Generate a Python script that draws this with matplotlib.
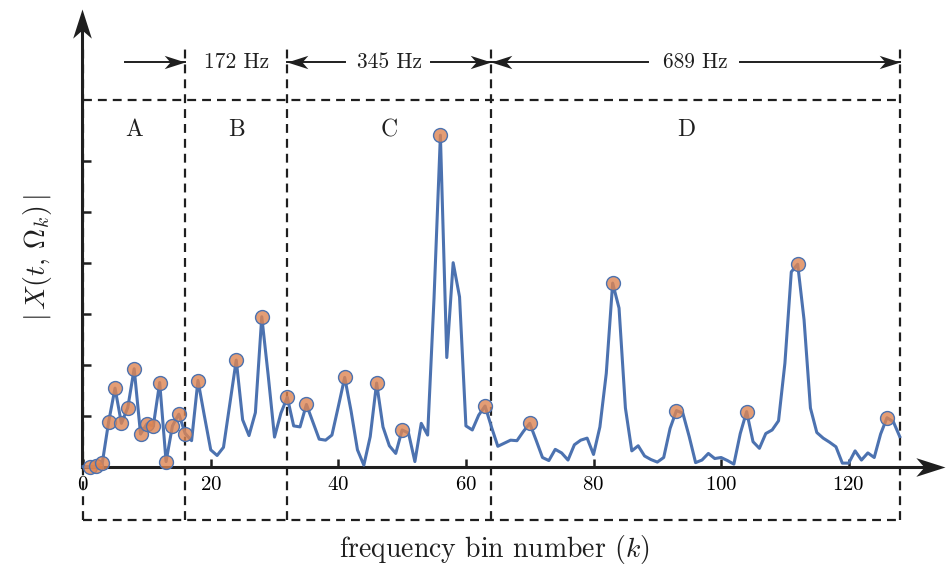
import numpy as np
import matplotlib
matplotlib.use('Agg')
import matplotlib.pyplot as plt
from matplotlib.path import Path

plt.rcParams['font.family'] = 'cmr10'
plt.rcParams['mathtext.fontset'] = 'cm'
plt.rcParams['axes.formatter.use_mathtext'] = True

# spectrum magnitude per frequency bin
bins = np.arange(129)
magnitude = [
    0.00, 0.00, 0.01, 0.07, 0.88, 1.54, 0.85, 1.16, 1.92, 0.64,
    0.84, 0.80, 1.65, 0.10, 0.80, 1.03, 0.65, 0.51, 1.69, 1.00,
    0.33, 0.22, 0.38, 1.24, 2.09, 0.92, 0.61, 1.06, 2.94, 1.80,
    0.58, 1.05, 1.36, 0.80, 0.78, 1.22, 0.88, 0.54, 0.52, 0.62,
    1.18, 1.75, 1.09, 0.33, 0.03, 0.59, 1.64, 0.78, 0.41, 0.26,
    0.72, 0.66, 0.10, 0.85, 0.62, 3.30, 6.50, 2.14, 4.00, 3.33,
    0.80, 0.72, 1.01, 1.19, 0.78, 0.40, 0.46, 0.52, 0.51, 0.69,
    0.85, 0.52, 0.18, 0.12, 0.34, 0.27, 0.13, 0.43, 0.52, 0.56,
    0.24, 0.78, 1.83, 3.60, 3.11, 1.15, 0.31, 0.41, 0.21, 0.14,
    0.09, 0.18, 0.75, 1.10, 1.05, 0.59, 0.08, 0.13, 0.26, 0.16,
    0.18, 0.12, 0.05, 0.65, 1.08, 0.49, 0.36, 0.65, 0.72, 0.90,
    2.03, 3.82, 3.97, 2.88, 1.15, 0.67, 0.56, 0.48, 0.39, 0.07,
    0.07, 0.31, 0.13, 0.27, 0.18, 0.64, 0.96, 0.88, 0.59,
]
peak_bins = [1, 2, 3, 4, 5, 6, 7, 8, 9, 10, 11, 12, 13, 14, 15, 16,
             18, 24, 28, 32, 35, 41, 46, 50, 56, 63, 70, 83, 93, 104, 112, 126]

# band edges and labels
edges = [0, 16, 32, 64, 128]
band_names = ['A', 'B', 'C', 'D']
band_label_x = [8, 24, 48, 94.5]
band_widths = ['172 Hz', '345 Hz', '689 Hz']

xticks = [0, 20, 40, 60, 80, 100, 120]
yticks = [1, 2, 3, 4, 5, 6]

blue = '#4C72B0'
orange = (0.87, 0.52, 0.32, 0.8)
ink = '#1f1f1f'

fig = plt.figure(figsize=(9.52, 5.72), dpi=100)
ax = fig.add_axes([0, 0, 1, 1])
ax.set_xlim(-13.03, 136.19)
ax.set_ylim(-2.065, 9.151)
ax.patch.set_alpha(0)

# axes as arrows
ax.spines['top'].set_visible(False)
ax.spines['right'].set_visible(False)
ax.spines['left'].set_position(('data', -0.2))
ax.spines['bottom'].set_position(('data', 0))
ax.spines['left'].set_bounds(0, 8.6)
ax.spines['bottom'].set_bounds(-0.2, 134.0)
for s in ['left', 'bottom']:
    ax.spines[s].set_linewidth(2.2)
    ax.spines[s].set_color(ink)
ax.set_xticks(xticks)
ax.set_yticks(yticks)
ax.set_yticklabels([])
ax.tick_params(axis='x', direction='in', length=5.5, width=1.8, color=ink,
               labelsize=15, pad=7)
ax.tick_params(axis='y', direction='in', length=6.5, width=1.8, color=ink)

head = Path([(0, 0), (-1, 0.32), (-0.72, 0), (-1, -0.32), (0, 0)],
            [Path.MOVETO, Path.LINETO, Path.LINETO, Path.LINETO, Path.CLOSEPOLY])
head_l = Path([(0, 0), (1, 0.32), (0.72, 0), (1, -0.32), (0, 0)],
              [Path.MOVETO, Path.LINETO, Path.LINETO, Path.LINETO, Path.CLOSEPOLY])
head_u = Path([(0, 0), (0.32, -1), (0, -0.72), (-0.32, -1), (0, 0)],
              [Path.MOVETO, Path.LINETO, Path.LINETO, Path.LINETO, Path.CLOSEPOLY])
ax.plot([135.1], [0], marker=head, ms=42, color=ink, mew=0, clip_on=False)
ax.plot([-0.2], [8.98], marker=head_u, ms=42, color=ink, mew=0, clip_on=False)

# dashed band boxes
top_box = 7.19
bottom_box = -1.05
dash = (0, (4, 2.7))
for e in edges:
    ax.plot([e, e], [bottom_box, 8.28], color=ink, lw=1.6, ls=dash)
ax.plot([0, 128], [top_box, top_box], color=ink, lw=1.6, ls=dash)
ax.plot([0, 128], [bottom_box, bottom_box], color=ink, lw=1.6, ls=dash)

for name, xpos in zip(band_names, band_label_x):
    ax.text(xpos, 6.6, name, fontsize=17, ha='center', va='center', color=ink)

# bandwidth arrows
ya = 7.94
ax.plot([6.6, 16], [ya, ya], color=ink, lw=1.4)
ax.plot([16], [ya], marker=head, ms=30, color=ink, mew=0)
ax.text(24, ya, band_widths[0], fontsize=15.5, ha='center', va='center', color=ink)

ax.text(48, ya, band_widths[1], fontsize=15.5, ha='center', va='center', color=ink)
ax.plot([32, 41], [ya, ya], color=ink, lw=1.4)
ax.plot([32], [ya], marker=head_l, ms=30, color=ink, mew=0)
ax.plot([54.6, 64], [ya, ya], color=ink, lw=1.4)
ax.plot([64], [ya], marker=head, ms=30, color=ink, mew=0)

ax.text(96, ya, band_widths[2], fontsize=15.5, ha='center', va='center', color=ink)
ax.plot([64, 88.5], [ya, ya], color=ink, lw=1.4)
ax.plot([64], [ya], marker=head_l, ms=30, color=ink, mew=0)
ax.plot([103, 128], [ya, ya], color=ink, lw=1.4)
ax.plot([128], [ya], marker=head, ms=30, color=ink, mew=0)

# the spectrum
ax.plot(bins, magnitude, color=blue, lw=2.2, zorder=3)
peak_vals = [magnitude[k] for k in peak_bins]
ax.plot(peak_bins, peak_vals, ls='none', marker='o', ms=10,
        mfc=orange, mec=blue, mew=1.0, zorder=4)

ax.text(64.5, -1.62, r'frequency bin number ($k$)', fontsize=20,
        ha='center', va='center', color=ink)
ax.text(-7.1, 4.1, r'$|\,X(t,\,\Omega_k)\,|$', fontsize=20, rotation=90,
        ha='center', va='center', color=ink)

plt.savefig('out.png', dpi=100)
